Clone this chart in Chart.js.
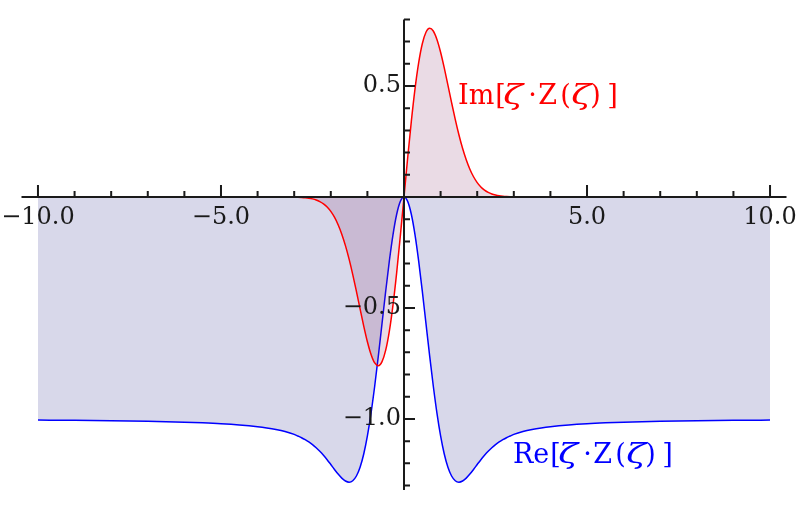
<!DOCTYPE html>
<html>
<head>
<meta charset="utf-8">
<script src="https://cdn.jsdelivr.net/npm/chart.js@4/dist/chart.umd.min.js"></script>
<style>
  html, body { margin: 0; padding: 0; background: #fff; }
  canvas { display: block; }
</style>
</head>
<body>
<canvas id="graph" width="800" height="505"></canvas>
<script>
// zeta sample points
const zeta = [
    -10, -9, -8, -7, -6, -5.5, -5, -4.5, -4, -3.75, -3.5, -3.25, -3, -2.9, -2.8, -2.7, -2.6,
    -2.5, -2.4, -2.3, -2.2, -2.1, -2.0, -1.9, -1.8, -1.7, -1.6,
    -1.5, -1.4, -1.3, -1.2, -1.1, -1.0, -0.9, -0.8, -0.7, -0.6,
    -0.5, -0.4, -0.3, -0.2, -0.1, 0,
    0.1, 0.2, 0.3, 0.4, 0.5, 0.6, 0.7, 0.8, 0.9, 1.0,
    1.1, 1.2, 1.3, 1.4, 1.5, 1.6, 1.7, 1.8, 1.9, 2.0,
    2.1, 2.2, 2.3, 2.4, 2.5,
    2.6, 2.7, 2.8, 2.9, 3, 3.25, 3.5, 3.75, 4, 4.5, 5, 5.5, 6, 7, 8, 9, 10
];

// Re[zeta Z(zeta)]
const reVals = [
    -1.0051, -1.0063, -1.0080, -1.0105, -1.0145, -1.0174, -1.0213, -1.0268, -1.0347, -1.0402,
    -1.0472, -1.0565, -1.0696, -1.0769, -1.0845, -1.0935, -1.1037,
    -1.1154, -1.1295, -1.1456, -1.1637, -1.1834, -1.2054, -1.2276, -1.2484, -1.2665, -1.2795,
    -1.2847, -1.2782, -1.2569, -1.2175, -1.1577, -1.0762, -0.9733, -0.8514, -0.7147, -0.5697,
    -0.4244, -0.2880, -0.1696, -0.0779, -0.0199, 0,
    -0.0199, -0.0779, -0.1696, -0.2880, -0.4244, -0.5697, -0.7147, -0.8514, -0.9733, -1.0762,
    -1.1577, -1.2175, -1.2569, -1.2782, -1.2847, -1.2795, -1.2665, -1.2484, -1.2276, -1.2054,
    -1.1834, -1.1637, -1.1456, -1.1295, -1.1154,
    -1.1037, -1.0935, -1.0845, -1.0769, -1.0696, -1.0565, -1.0472, -1.0402, -1.0347, -1.0268,
    -1.0213, -1.0174, -1.0145, -1.0105, -1.0080, -1.0063, -1.0051
];

// Im[zeta Z(zeta)]
const imVals = [
    0, 0, 0, 0, 0, 0, 0, 0, 0, 0, 0, -0.0002, -0.0007, -0.0011, -0.0020, -0.0033, -0.0053,
    -0.0086, -0.0134, -0.0206, -0.0308, -0.0452, -0.0649, -0.0911, -0.1250, -0.1675, -0.2192,
    -0.2802, -0.3495, -0.4252, -0.5039, -0.5814, -0.6521, -0.7096, -0.7477, -0.7601, -0.7420,
    -0.6902, -0.6042, -0.4860, -0.3406, -0.1755, 0,
    0.1755, 0.3406, 0.4860, 0.6042, 0.6902, 0.7420, 0.7601, 0.7477, 0.7096, 0.6521,
    0.5814, 0.5039, 0.4252, 0.3495, 0.2802, 0.2192, 0.1675, 0.1250, 0.0911, 0.0649,
    0.0452, 0.0308, 0.0206, 0.0134, 0.0086,
    0.0053, 0.0033, 0.0020, 0.0011, 0.0007, 0.0002, 0, 0, 0, 0, 0, 0, 0, 0, 0, 0, 0
];

const xTickLabels = ['\u221210.0', '\u22125.0', '5.0', '10.0'];
const xTickValues = [-10, -5, 5, 10];
const yTickLabels = ['0.5', '\u22120.5', '\u22121.0'];
const yTickValues = [0.5, -0.5, -1.0];

const toPoints = (ys) => zeta.map((x, i) => ({ x: x, y: ys[i] }));

const FONT = '"DejaVu Serif", serif';

// curve label pieces: text, italic, offset from the "[" position
const labelParts = [
    ['[', false, 0], ['\u03B6', true, 8], ['\u00B7', false, 33], ['Z', false, 43],
    ['(', false, 65], ['\u03B6', true, 76], [')', false, 95], [']', false, 112]
];

const axesPlugin = {
    id: 'axes',
    afterDatasetsDraw(chart) {
        const { ctx, chartArea, scales } = chart;
        const xs = scales.x, ys = scales.y;
        const y0 = ys.getPixelForValue(0);
        const x0 = xs.getPixelForValue(0);
        ctx.save();
        ctx.strokeStyle = '#1a1a1a';
        ctx.lineWidth = 2;

        // x axis
        ctx.beginPath();
        ctx.moveTo(chartArea.left, y0);
        ctx.lineTo(chartArea.right, y0);
        for (let v = -10; v <= 10; v++) {
            if (v === 0) continue;
            const px = xs.getPixelForValue(v);
            const len = v % 5 === 0 ? 12 : 6;
            ctx.moveTo(px, y0);
            ctx.lineTo(px, y0 - len);
        }
        ctx.stroke();

        // y axis
        ctx.beginPath();
        ctx.moveTo(x0, chartArea.top);
        ctx.lineTo(x0, chartArea.bottom);
        for (let k = -13; k <= 8; k++) {
            if (k === 0) continue;
            const py = ys.getPixelForValue(k / 10);
            const len = k % 5 === 0 ? 11 : 6;
            ctx.moveTo(x0, py);
            ctx.lineTo(x0 + len, py);
        }
        ctx.stroke();

        // tick labels
        ctx.fillStyle = '#1a1a1a';
        ctx.font = '24px ' + FONT;
        ctx.textAlign = 'center';
        ctx.textBaseline = 'top';
        xTickValues.forEach((v, i) => {
            ctx.fillText(xTickLabels[i], xs.getPixelForValue(v), y0 + 9);
        });
        ctx.textAlign = 'right';
        ctx.textBaseline = 'middle';
        yTickValues.forEach((v, i) => {
            ctx.fillText(yTickLabels[i], x0 - 3, ys.getPixelForValue(v));
        });

        // curve labels
        ctx.textAlign = 'left';
        ctx.textBaseline = 'alphabetic';
        const drawLabel = (name, x, y, color) => {
            ctx.fillStyle = color;
            ctx.font = '27px ' + FONT;
            ctx.fillText(name, x, y);
            const bx = x + ctx.measureText(name).width + 1;
            labelParts.forEach(([txt, italic, dx]) => {
                if (italic) {
                    ctx.save();
                    ctx.font = 'italic 28px ' + FONT;
                    ctx.translate(bx + dx, y);
                    ctx.scale(1.3, 1);
                    ctx.fillText(txt, 0, 0);
                    ctx.restore();
                } else {
                    ctx.font = '27px ' + FONT;
                    ctx.fillText(txt, bx + dx, y);
                }
            });
        };
        drawLabel('Im', 458, 104, '#ff0000');
        drawLabel('Re', 513, 463, '#0000ff');
        ctx.restore();
    }
};

new Chart(document.querySelector('#graph'), {
    type: 'line',
    data: {
        datasets: [
            {
                label: 'Im',
                data: toPoints(imVals),
                borderColor: '#ff0000',
                borderWidth: 1.5,
                backgroundColor: 'rgba(130, 40, 100, 0.17)',
                fill: 'origin',
                pointRadius: 0,
                cubicInterpolationMode: 'monotone'
            },
            {
                label: 'Re',
                data: toPoints(reVals),
                borderColor: '#0000ff',
                borderWidth: 1.5,
                backgroundColor: 'rgba(60, 60, 150, 0.2)',
                fill: 'origin',
                pointRadius: 0,
                cubicInterpolationMode: 'monotone'
            }
        ]
    },
    options: {
        responsive: false,
        animation: false,
        layout: { padding: { left: 21.5, right: 13.5, top: 19.4, bottom: 15 } },
        scales: {
            x: { type: 'linear', min: -10.45, max: 10.45, display: false },
            y: { type: 'linear', min: -1.32, max: 0.8, display: false }
        },
        plugins: {
            legend: { display: false },
            title: { display: false },
            tooltip: { enabled: false }
        }
    },
    plugins: [axesPlugin]
});
</script>
</body>
</html>
